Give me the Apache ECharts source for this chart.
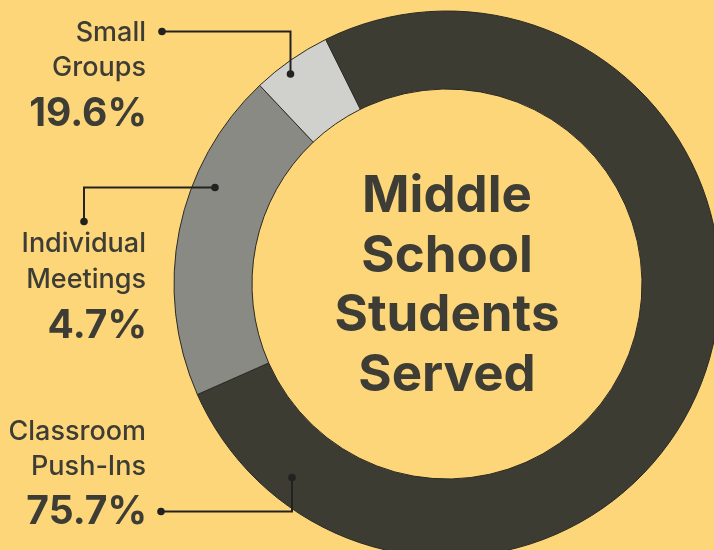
<!DOCTYPE html>
<html>
<head>
<meta charset="utf-8">
<script src="https://cdn.jsdelivr.net/npm/echarts@6/dist/echarts.min.js"></script>
<style>
  html, body { margin: 0; padding: 0; background: #FED67A; }
  #chart { width: 714px; height: 550px; }
</style>
</head>
<body>
<div id="chart"></div>
<script>
// Slices in drawing order (clockwise from the top-left boundary)
const sliceNames = ['Classroom Push-Ins', 'Individual Meetings', 'Small Groups'];
const sliceValues = [75.7, 19.6, 4.7];
// Percent texts printed beside each slice name (as shown in the picture)
const labelPercents = ['75.7%', '4.7%', '19.6%'];
// Name lines of each annotation
const labelLines = [['Classroom', 'Push-Ins'], ['Individual', 'Meetings'], ['Small', 'Groups']];
const centerLines = ['Middle', 'School', 'Students', 'Served'];

const sliceColors = ['#3D3C33', '#8A8A84', '#D0D0CC'];
const ink = '#3D3D35';
const lineInk = '#222220';
const FONT = 'Inter, "Noto Sans", sans-serif';

const chart = echarts.init(document.getElementById('chart'), null, { renderer: 'canvas' });

const CX = 447, CY = 284;

// annotation layout (pixel positions of text blocks and leader lines)
const annot = [
  { // Classroom Push-Ins
    line1Y: 432, line2Y: 467, pctY: 512,
    path: [[161, 511.5], [292, 511.5], [292, 477.5]]
  },
  { // Individual Meetings
    line1Y: 244, line2Y: 280, pctY: 326,
    path: [[84, 221.5], [84, 187.5], [215, 187.5]]
  },
  { // Small Groups
    line1Y: 33, line2Y: 68, pctY: 114,
    path: [[162, 31.5], [290.5, 31.5], [290.5, 74]]
  }
];

const graphics = [];
annot.forEach((a, i) => {
  graphics.push({
    type: 'text', z: 10,
    style: { text: labelLines[i][0], x: 146, y: a.line1Y, textAlign: 'right', textVerticalAlign: 'middle',
      font: '500 27px ' + FONT, fill: ink }
  });
  graphics.push({
    type: 'text', z: 10,
    style: { text: labelLines[i][1], x: 146, y: a.line2Y, textAlign: 'right', textVerticalAlign: 'middle',
      font: '500 27px ' + FONT, fill: ink }
  });
  graphics.push({
    type: 'text', z: 10,
    style: { text: labelPercents[i], x: 147, y: a.pctY, textAlign: 'right', textVerticalAlign: 'middle',
      font: 'bold 39px ' + FONT, fill: ink }
  });
  graphics.push({
    type: 'polyline', z: 20,
    shape: { points: a.path },
    style: { stroke: lineInk, lineWidth: 2, fill: null }
  });
  [a.path[0], a.path[a.path.length - 1]].forEach(p => {
    graphics.push({
      type: 'circle', z: 21,
      shape: { cx: p[0], cy: p[1], r: 3.8 },
      style: { fill: lineInk }
    });
  });
});

centerLines.forEach((t, i) => {
  graphics.push({
    type: 'text', z: 10,
    style: { text: t, x: CX, y: 197 + i * 59.5, textAlign: 'center', textVerticalAlign: 'middle',
      font: 'bold 51px ' + FONT, fill: ink }
  });
});

chart.setOption({
  backgroundColor: '#FED67A',
  animation: false,
  series: [{
    type: 'pie',
    center: [CX, CY],
    radius: [195, 273],
    startAngle: 116.4,
    clockwise: true,
    silent: true,
    label: { show: false },
    labelLine: { show: false },
    emphasis: { disabled: true },
    itemStyle: { borderColor: '#2A2A25', borderWidth: 1 },
    data: sliceNames.map((n, i) => ({
      name: n, value: sliceValues[i], itemStyle: { color: sliceColors[i] }
    }))
  }],
  graphic: graphics
});
</script>
</body>
</html>
